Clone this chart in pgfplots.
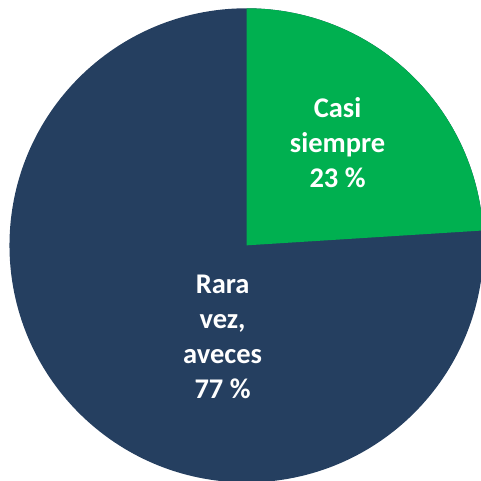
\documentclass[border=0pt]{standalone}
\usepackage{pgfplots}
\usepackage{pgfplotstable}
\pgfplotsset{compat=1.18}
\usepackage{fontspec}
\setmainfont{Carlito}
\definecolor{pgreen}{HTML}{00B050}
\definecolor{pblue}{HTML}{253F60}
\pgfplotstableread{
label value
{Casi siempre} 24
{Rara vez} 76
}\piedata
\begin{document}
\begin{tikzpicture}
\pgfplotstablegetelem{0}{value}\of\piedata
\pgfmathsetmacro\angA{90-360*\pgfplotsretval/100}
\begin{axis}[
  width=481pt, height=481pt, scale only axis,
  xmin=-1.040, xmax=0.989, ymin=-0.994, ymax=1.035,
  hide axis, clip=true,
]
\addplot[draw=none, forget plot] coordinates {(0,0)};
\fill[pblue] (axis cs:0,0) -- (axis cs:0,1) arc[start angle=90, end angle=\angA-360, radius=237.06pt] -- cycle;
\fill[pgreen] (axis cs:0,0) -- (axis cs:0,1) arc[start angle=90, end angle=\angA, radius=237.06pt] -- cycle;
\node[text=white, align=center, font=\fontsize{28.5}{35}\selectfont\bfseries] at (axis cs:0.384,0.434) {Casi\\siempre\\23 \%};
\node[text=white, align=center, font=\fontsize{28.5}{35}\selectfont\bfseries] at (axis cs:-0.101,-0.388) {Rara\\vez,\\aveces\\77 \%};
\end{axis}
\pgfresetboundingbox
\useasboundingbox (current axis.south west) rectangle (current axis.north east);
\end{tikzpicture}
\end{document}
